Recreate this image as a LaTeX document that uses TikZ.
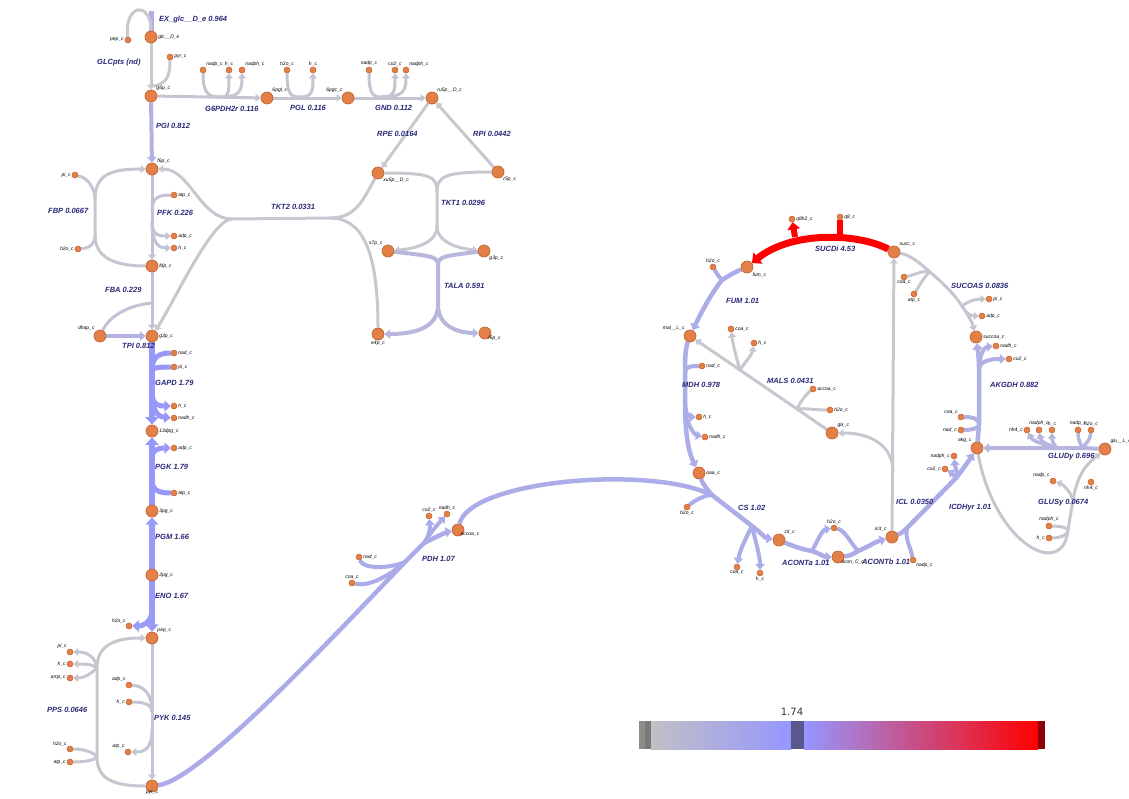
\documentclass[tikz,border=0pt]{standalone}
\usepackage{fontspec}
\setmainfont{Liberation Sans}
\newfontfamily\barfont{DejaVu Sans}
\usepackage{tikz}
\usetikzlibrary{arrows.meta,backgrounds}
\definecolor{fgrey}{RGB}{200,200,206}
\definecolor{fblue}{RGB}{152,152,250}
\definecolor{fred}{RGB}{255,0,0}
\definecolor{metfill}{RGB}{226,128,72}
\definecolor{metedge}{RGB}{196,98,48}
\definecolor{rxtext}{RGB}{40,40,120}
\definecolor{barlow}{RGB}{192,192,198}
\definecolor{barhigh}{RGB}{150,150,255}
\definecolor{barmark}{RGB}{88,88,140}
\definecolor{barend}{RGB}{140,0,10}
\tikzset{
  mb/.style={circle,fill=metfill,draw=metedge,line width=0.7pt,minimum size=12pt,inner sep=0pt},
  ms/.style={circle,fill=metfill,draw=metedge,line width=0.5pt,minimum size=6pt,inner sep=0pt},
  ml/.style={font=\fontsize{5}{5}\selectfont\itshape,inner sep=0.8pt},
  rl/.style={font=\fontsize{7.5}{8}\selectfont\bfseries\itshape,text=rxtext,anchor=west,inner sep=0pt},
  fx/.style 2 args={draw=fblue!#1!fgrey,line width=#2pt},
  ar/.style={-{Triangle[length=3pt 0.7,width=3pt 1.6]}},
}
\begin{document}
\begin{tikzpicture}[x=1pt,y=-1pt]
  \useasboundingbox (0,0) rectangle (1129,798);
  % big metabolites
  \node[mb,label={[ml]right:glc\_\_D\_e}] (glc) at (151,37) {};
  \node[mb,label={[ml]above right:g6p\_c}] (g6p) at (151,96) {};
  \node[mb,label={[ml]above right:6pgl\_c}] (pgl6) at (267,98) {};
  \node[mb,label={[ml]above left:6pgc\_c}] (pgc6) at (348,98) {};
  \node[mb,label={[ml]above right:ru5p\_\_D\_c}] (ru5p) at (432,98) {};
  \node[mb,label={[ml]above right:f6p\_c}] (f6p) at (152,169) {};
  \node[mb,label={[ml]right:fdp\_c}] (fdp) at (152,266) {};
  \node[mb,label={[ml]right:g3p\_c}] (g3p) at (152,336) {};
  \node[mb,label={[ml]above left:dhap\_c}] (dhap) at (100,336) {};
  \node[mb,label={[ml]right:13dpg\_c}] (dpg13) at (152,431) {};
  \node[mb,label={[ml]right:3pg\_c}] (pg3) at (152,511) {};
  \node[mb,label={[ml]right:2pg\_c}] (pg2) at (152,575) {};
  \node[mb,label={[ml]above right:pep\_c}] (pep) at (152,638) {};
  \node[mb,label={[ml,label distance=-3pt]below:pyr\_c}] (pyr) at (152,786) {};
  \node[mb,label={[ml]below right:xu5p\_\_D\_c}] (xu5p) at (378,173) {};
  \node[mb,label={[ml]below right:r5p\_c}] (r5p) at (498,172) {};
  \node[mb,label={[ml]above left:s7p\_c}] (s7p) at (388,251) {};
  \node[mb,label={[ml]below right:g3p\_c}] (g3pb) at (484,251) {};
  \node[mb,label={[ml]below:e4p\_c}] (e4p) at (378,334) {};
  \node[mb,label={[ml,label distance=-3pt]below right:f6p\_c}] (f6pb) at (485,333) {};
  \node[mb,label={[ml,label distance=-4pt]below right:accoa\_c}] (accoa) at (458,530) {};
  \node[mb,label={[ml]below right:fum\_c}] (fum) at (747,267) {};
  \node[mb,label={[ml]above left:mal\_\_L\_c}] (mal) at (690,336) {};
  \node[mb,label={[ml]right:oaa\_c}] (oaa) at (699,473) {};
  \node[mb,label={[ml]above right:cit\_c}] (cit) at (779,540) {};
  \node[mb,label={[ml,label distance=-3pt]below right:acon\_C\_c}] (acon) at (838,557) {};
  \node[mb,label={[ml]above left:icit\_c}] (icit) at (892,537) {};
  \node[mb,label={[ml]above left:akg\_c}] (akg) at (977,448) {};
  \node[mb,label={[ml]right:succoa\_c}] (succoa) at (976,337) {};
  \node[mb,label={[ml]above right:succ\_c}] (succ) at (894,252) {};
  \node[mb,label={[ml]above right:glx\_c}] (glx) at (832,433) {};
  \node[mb,label={[ml]above right:glu\_\_L\_c}] (glu) at (1105,449) {};
  % small metabolites
  \node[ms,label={[ml]left:pep\_c}] (pepA) at (128,40) {};
  \node[ms,label={[ml]right:pyr\_c}] (pyrA) at (170,57) {};
  \node[ms,label={[ml]above right:nadp\_c}] (gpNadp) at (203,70) {};
  \node[ms,label={[ml]above:h\_c}] (gpH) at (229,70) {};
  \node[ms,label={[ml]above right:nadph\_c}] (gpNadph) at (242,70) {};
  \node[ms,label={[ml]above:h2o\_c}] (plH2o) at (287,70) {};
  \node[ms,label={[ml]above:h\_c}] (plH) at (313,70) {};
  \node[ms,label={[ml]above:nadp\_c}] (gnNadp) at (369,70) {};
  \node[ms,label={[ml]above:co2\_c}] (gnCo2) at (395,70) {};
  \node[ms,label={[ml]above right:nadph\_c}] (gnNadph) at (406,70) {};
  \node[ms,label={[ml]left:pi\_c}] (fbPi) at (75,175) {};
  \node[ms,label={[ml]left:h2o\_c}] (fbH2o) at (78,249) {};
  \node[ms,label={[ml]right:atp\_c}] (pfAtp) at (174,195) {};
  \node[ms,label={[ml]right:adp\_c}] (pfAdp) at (174,236) {};
  \node[ms,label={[ml]right:h\_c}] (pfH) at (174,248) {};
  \node[ms,label={[ml]right:nad\_c}] (gaNad) at (174,353) {};
  \node[ms,label={[ml]right:pi\_c}] (gaPi) at (174,367) {};
  \node[ms,label={[ml]right:h\_c}] (gaH) at (174,406) {};
  \node[ms,label={[ml]right:nadh\_c}] (gaNadh) at (174,418) {};
  \node[ms,label={[ml]right:adp\_c}] (pkAdp) at (174,448) {};
  \node[ms,label={[ml]right:atp\_c}] (pkAtp) at (174,493) {};
  \node[ms,label={[ml]above left:h2o\_c}] (enH2o) at (129,626) {};
  \node[ms,label={[ml]above left:pi\_c}] (ppPi) at (70,652) {};
  \node[ms,label={[ml]left:h\_c}] (ppH) at (70,664) {};
  \node[ms,label={[ml]left:amp\_c}] (ppAmp) at (70,678) {};
  \node[ms,label={[ml]above left:h2o\_c}] (ppH2o) at (70,749) {};
  \node[ms,label={[ml]left:atp\_c}] (ppAtp) at (70,762) {};
  \node[ms,label={[ml]above left:adp\_c}] (pyAdp) at (129,685) {};
  \node[ms,label={[ml]left:h\_c}] (pyH) at (129,702) {};
  \node[ms,label={[ml]above left:atp\_c}] (pyAtp) at (128,752) {};
  \node[ms,label={[ml]right:nad\_c}] (pdNad) at (359,557) {};
  \node[ms,label={[ml]above:coa\_c}] (pdCoa) at (352,583) {};
  \node[ms,label={[ml]above:co2\_c}] (pdCo2) at (429,516) {};
  \node[ms,label={[ml]above:nadh\_c}] (pdNadh) at (447,514) {};
  \node[ms,label={[ml]right:q8h2\_c}] (sdQh2) at (792,219) {};
  \node[ms,label={[ml]right:q8\_c}] (sdQ8) at (840,217) {};
  \node[ms,label={[ml]above:h2o\_c}] (fmH2o) at (713,267) {};
  \node[ms,label={[ml]right:coa\_c}] (msCoa) at (731,329) {};
  \node[ms,label={[ml]right:h\_c}] (msH) at (754,343) {};
  \node[ms,label={[ml]right:nad\_c}] (mdNad) at (702,366) {};
  \node[ms,label={[ml]right:accoa\_c}] (msAccoa) at (813,389) {};
  \node[ms,label={[ml]right:h2o\_c}] (msH2o) at (830,410) {};
  \node[ms,label={[ml]right:h\_c}] (mdH) at (699,417) {};
  \node[ms,label={[ml]right:nadh\_c}] (mdNadh) at (705,437) {};
  \node[ms,label={[ml]below:h2o\_c}] (csH2o) at (687,507) {};
  \node[ms,label={[ml]below:coa\_c}] (csCoa) at (737,567) {};
  \node[ms,label={[ml]below:h\_c}] (csH) at (760,573) {};
  \node[ms,label={[ml]above:h2o\_c}] (acH2o) at (834,528) {};
  \node[ms,label={[ml]below right:nadp\_c}] (icNadp) at (913,560) {};
  \node[ms,label={[ml]below:coa\_c}] (soCoa) at (904,277) {};
  \node[ms,label={[ml]below:atp\_c}] (soAtp) at (914,294) {};
  \node[ms,label={[ml]right:pi\_c}] (soPi) at (989,299) {};
  \node[ms,label={[ml]right:adp\_c}] (soAdp) at (982,316) {};
  \node[ms,label={[ml]right:nadh\_c}] (akNadh) at (996,346) {};
  \node[ms,label={[ml]right:co2\_c}] (akCo2) at (1009,359) {};
  \node[ms,label={[ml]above left:coa\_c}] (akCoa) at (961,417) {};
  \node[ms,label={[ml]left:nad\_c}] (akNad) at (961,430) {};
  \node[ms,label={[ml]left:nadph\_c}] (icNadph) at (954,456) {};
  \node[ms,label={[ml]left:co2\_c}] (icCo2) at (945,469) {};
  \node[ms,label={[ml]left:nh4\_c}] (gyNh4) at (1027,430) {};
  \node[ms,label={[ml]above:nadph\_c}] (gyNadph) at (1039,430) {};
  \node[ms,label={[ml]above:h\_c}] (gyH) at (1052,430) {};
  \node[ms,label={[ml]above:nadp\_c}] (gyNadp) at (1078,430) {};
  \node[ms,label={[ml]above:h2o\_c}] (gyH2o) at (1091,430) {};
  \node[ms,label={[ml]above left:nadp\_c}] (gsNadp) at (1053,481) {};
  \node[ms,label={[ml]below:nh4\_c}] (gsNh4) at (1091,482) {};
  \node[ms,label={[ml]above:nadph\_c}] (gsNadph) at (1049,526) {};
  \node[ms,label={[ml]left:h\_c}] (gsH) at (1049,538) {};
  % reaction midpoints
  \coordinate (exTop) at (151,11);
  \coordinate (glcA) at (153,86);
  \coordinate (gpA) at (222,97);
  \coordinate (plA) at (300,97);
  \coordinate (gnA) at (382,97);
  \coordinate (tk1A) at (437,192); \coordinate (tk1B) at (437,226);
  \coordinate (talA) at (438,265); \coordinate (talB) at (438,305);
  \coordinate (tk2A) at (232,219); \coordinate (tk2B) at (330,218);
  \coordinate (fbA) at (95,200); \coordinate (fbB) at (95,235);
  \coordinate (pfA) at (152,212); \coordinate (pfB) at (152,222);
  \coordinate (fbaA) at (152,303);
  \coordinate (gaA) at (152,372); \coordinate (gaB) at (152,392);
  \coordinate (pkA) at (152,480); \coordinate (pkB) at (152,458);
  \coordinate (enA) at (152,612);
  \coordinate (ppA) at (97,668); \coordinate (ppB) at (97,757);
  \coordinate (pyA) at (152,712); \coordinate (pyB) at (152,730);
  \coordinate (pdA) at (405,562); \coordinate (pdB) at (424,543);
  \coordinate (csA) at (712,495); \coordinate (csB) at (752,526);
  \coordinate (aaA) at (812,551); \coordinate (abA) at (858,551);
  \coordinate (icA) at (893,472);
  \coordinate (idA) at (907,528); \coordinate (idB) at (957,477);
  \coordinate (akA) at (979,425); \coordinate (akB) at (979,368);
  \coordinate (soA) at (930,272); \coordinate (soB) at (962,306);
  \coordinate (sdA) at (840,237); \coordinate (sdB) at (795,237);
  \coordinate (fmA) at (722,280);
  \coordinate (mdA) at (685,372); \coordinate (mdB) at (685,402);
  \coordinate (msA) at (797,409); \coordinate (msB) at (740,370);
  \coordinate (gyA) at (1082,448); \coordinate (gyB) at (1057,448);
  \coordinate (gsA) at (1068,530); \coordinate (gsB) at (1073,500);
  \begin{scope}[on background layer]
    % glycolysis and pentose phosphate
    \draw[fx={55}{5}] (exTop) -- (glc);
    \draw[fx={0}{3}] (pepA) .. controls (124,4) and (151,0) .. (glc);
    \draw[fx={0}{3},ar] (glc) -- (g6p);
    \draw[fx={0}{3}] (glcA) .. controls (168,84) and (170,74) .. (pyrA);
    \draw[fx={7}{3},ar] (g6p) -- (pgl6);
    \draw[fx={7}{3}] (gpNadp) .. controls (203,96) and (210,97) .. (gpA);
    \draw[fx={7}{3},ar] (gpA) .. controls (229,97) and (229,90) .. (gpH);
    \draw[fx={7}{3},ar] (gpA) .. controls (240,97) and (242,90) .. (gpNadph);
    \draw[fx={7}{3},ar] (pgl6) -- (pgc6);
    \draw[fx={7}{3}] (plH2o) .. controls (287,96) and (292,97) .. (plA);
    \draw[fx={7}{3},ar] (plA) .. controls (313,97) and (313,90) .. (plH);
    \draw[fx={6}{3},ar] (pgc6) -- (ru5p);
    \draw[fx={6}{3}] (gnNadp) .. controls (369,96) and (374,97) .. (gnA);
    \draw[fx={6}{3},ar] (gnA) .. controls (395,97) and (395,90) .. (gnCo2);
    \draw[fx={6}{3},ar] (gnA) .. controls (404,97) and (406,90) .. (gnNadph);
    \draw[fx={47}{4},ar] (g6p) -- (f6p);
    \draw[fx={1}{3},ar] (ru5p) -- (xu5p);
    \draw[fx={3}{3},ar] (r5p) -- (ru5p);
    \draw[fx={2}{3}] (xu5p) .. controls (430,173) and (437,176) .. (tk1A);
    \draw[fx={2}{3}] (r5p) .. controls (445,172) and (437,176) .. (tk1A) -- (tk1B);
    \draw[fx={2}{3},ar] (tk1B) .. controls (437,245) and (410,249) .. (s7p);
    \draw[fx={2}{3},ar] (tk1B) .. controls (437,245) and (465,249) .. (g3pb);
    \draw[fx={34}{4}] (s7p) .. controls (430,256) and (438,256) .. (talA);
    \draw[fx={34}{4}] (g3pb) .. controls (445,256) and (438,256) .. (talA) -- (talB);
    \draw[fx={34}{4},ar] (talB) .. controls (438,330) and (410,334) .. (e4p);
    \draw[fx={34}{4},ar] (talB) .. controls (438,330) and (465,333) .. (f6pb);
    \draw[fx={2}{3}] (xu5p) .. controls (362,202) and (355,218) .. (tk2B);
    \draw[fx={2}{3}] (e4p) .. controls (378,250) and (362,218) .. (tk2B) -- (tk2A);
    \draw[fx={2}{3},ar] (tk2A) .. controls (200,219) and (190,169) .. (f6p);
    \draw[fx={2}{3},ar] (tk2A) .. controls (212,219) and (175,300) .. (g3p);
    \draw[fx={4}{3},ar] (fbA) .. controls (95,175) and (110,169) .. (f6p);
    \draw[fx={4}{3}] (fbA) .. controls (95,188) and (88,178) .. (fbPi);
    \draw[fx={4}{3}] (fdp) .. controls (110,266) and (95,255) .. (fbB) -- (fbA);
    \draw[fx={4}{3}] (fbH2o) .. controls (90,248) and (95,244) .. (fbB);
    \draw[fx={13}{3},ar] (f6p) -- (fdp);
    \draw[fx={13}{3}] (pfAtp) .. controls (155,195) and (152,200) .. (pfA);
    \draw[fx={13}{3},ar] (pfB) .. controls (152,236) and (160,236) .. (pfAdp);
    \draw[fx={13}{3},ar] (pfB) .. controls (152,245) and (160,248) .. (pfH);
    \draw[fx={13}{3},ar] (fdp) -- (g3p);
    \draw[fx={13}{3}] (fbaA) .. controls (130,305) and (110,315) .. (dhap);
    \draw[fx={47}{4},ar] (dhap) -- (g3p);
    \draw[fx={100}{6.5},ar] (g3p) -- (dpg13);
    \draw[fx={100}{5}] (gaNad) .. controls (155,353) and (152,360) .. (gaA);
    \draw[fx={100}{5}] (gaPi) .. controls (155,367) and (152,368) .. (gaA);
    \draw[fx={100}{5},ar] (gaB) .. controls (152,406) and (160,406) .. (gaH);
    \draw[fx={100}{5},ar] (gaB) .. controls (152,414) and (160,417) .. (gaNadh);
    \draw[fx={100}{6.5},ar] (pg3) -- (dpg13);
    \draw[fx={100}{5}] (pkAtp) .. controls (155,493) and (152,488) .. (pkA);
    \draw[fx={100}{5},ar] (pkB) .. controls (152,450) and (158,448) .. (pkAdp);
    \draw[fx={95}{6},ar] (pg2) -- (pg3);
    \draw[fx={96}{6},ar] (pg2) -- (pep);
    \draw[fx={96}{5},ar] (enA) .. controls (150,624) and (142,626) .. (enH2o);
    \draw[fx={4}{3},ar] (ppA) .. controls (97,645) and (115,638) .. (pep);
    \draw[fx={4}{3},ar] (ppA) .. controls (95,655) and (85,652) .. (ppPi);
    \draw[fx={4}{3},ar] (ppA) .. controls (93,664) and (85,664) .. (ppH);
    \draw[fx={4}{3},ar] (ppA) .. controls (93,672) and (85,678) .. (ppAmp);
    \draw[fx={4}{3}] (pyr) .. controls (115,786) and (97,780) .. (ppB) -- (ppA);
    \draw[fx={4}{3}] (ppH2o) .. controls (85,749) and (95,753) .. (ppB);
    \draw[fx={4}{3}] (ppAtp) .. controls (85,762) and (95,760) .. (ppB);
    \draw[fx={8}{3},ar] (pep) -- (pyr);
    \draw[fx={8}{3}] (pyAdp) .. controls (145,686) and (152,695) .. (pyA);
    \draw[fx={8}{3}] (pyH) .. controls (145,702) and (152,705) .. (pyA);
    \draw[fx={8}{3},ar] (pyB) .. controls (152,748) and (145,752) .. (pyAtp);
    % pyruvate dehydrogenase and TCA cycle
    \draw[fx={61}{4.5}] (pyr) .. controls (200,780) and (330,640) .. (pdA) -- (pdB);
    \draw[fx={61}{4}] (pdNad) .. controls (362,568) and (385,570) .. (pdA);
    \draw[fx={61}{4}] (pdCoa) .. controls (370,587) and (390,575) .. (pdA);
    \draw[fx={61}{4},ar] (pdB) .. controls (430,535) and (430,528) .. (pdCo2);
    \draw[fx={61}{4},ar] (pdB) .. controls (432,530) and (440,522) .. (pdNadh);
    \draw[fx={61}{4.5},ar] (pdB) .. controls (440,535) and (447,532) .. (accoa);
    \draw[fx={59}{4.5}] (accoa) .. controls (470,480) and (650,465) .. (csA) -- (csB);
    \draw[fx={59}{4.5}] (oaa) .. controls (703,485) and (708,490) .. (csA);
    \draw[fx={59}{4}] (csH2o) .. controls (695,500) and (705,495) .. (csA);
    \draw[fx={59}{4.5},ar] (csB) .. controls (760,532) and (765,538) .. (cit);
    \draw[fx={59}{4},ar] (csB) .. controls (745,540) and (740,550) .. (csCoa);
    \draw[fx={59}{4},ar] (csB) .. controls (755,540) and (760,555) .. (csH);
    \draw[fx={58}{4.5}] (cit) .. controls (795,547) and (805,550) .. (aaA);
    \draw[fx={58}{4.5},ar] (aaA) .. controls (818,553) and (825,557) .. (acon);
    \draw[fx={58}{4},ar] (aaA) .. controls (818,540) and (822,530) .. (acH2o);
    \draw[fx={58}{4.5}] (acon) .. controls (850,556) and (855,553) .. (abA);
    \draw[fx={58}{4}] (acH2o) .. controls (845,530) and (852,545) .. (abA);
    \draw[fx={58}{4.5},ar] (abA) .. controls (868,547) and (875,542) .. (icit);
    \draw[fx={2}{3},ar] (icit) -- (succ);
    \draw[fx={2}{3},ar] (icA) .. controls (893,445) and (870,433) .. (glx);
    \draw[fx={58}{4.5}] (icit) .. controls (902,533) and (905,530) .. (idA) -- (idB);
    \draw[fx={58}{4}] (icNadp) .. controls (910,545) and (905,540) .. (idA);
    \draw[fx={58}{4.5},ar] (idB) .. controls (962,470) and (968,462) .. (akg);
    \draw[fx={58}{4},ar] (idB) .. controls (957,470) and (955,466) .. (icNadph);
    \draw[fx={58}{4},ar] (idB) .. controls (952,475) and (950,472) .. (icCo2);
    \draw[fx={51}{4.5}] (akg) -- (akA) -- (akB);
    \draw[fx={51}{4}] (akCoa) .. controls (972,417) and (979,418) .. (akA);
    \draw[fx={51}{4}] (akNad) .. controls (972,430) and (979,428) .. (akA);
    \draw[fx={51}{4.5},ar] (akB) .. controls (979,360) and (978,352) .. (succoa);
    \draw[fx={51}{4},ar] (akB) .. controls (980,352) and (985,347) .. (akNadh);
    \draw[fx={51}{4},ar] (akB) .. controls (982,359) and (995,359) .. (akCo2);
    \draw[fx={5}{3}] (succ) .. controls (910,255) and (920,263) .. (soA);
    \draw[fx={5}{3}] (soCoa) .. controls (915,275) and (922,270) .. (soA);
    \draw[fx={5}{3}] (soAtp) .. controls (920,285) and (925,275) .. (soA);
    \draw[fx={5}{3}] (soA) .. controls (945,285) and (955,295) .. (soB);
    \draw[fx={5}{3},ar] (soB) .. controls (968,315) and (972,322) .. (succoa);
    \draw[fx={5}{3},ar] (soB) .. controls (970,300) and (978,299) .. (soPi);
    \draw[fx={5}{3},ar] (soB) .. controls (966,314) and (972,316) .. (soAdp);
    \draw[fx={0}{7},draw=fred,ar] (succ) .. controls (855,232) and (790,232) .. (fum);
    \draw[fx={0}{6},draw=fred] (sdQ8) -- (sdA);
    \draw[fx={0}{6},draw=fred,ar] (sdB) -- (sdQh2);
    \draw[fx={58}{4.5}] (fum) .. controls (735,272) and (728,276) .. (fmA);
    \draw[fx={58}{4}] (fmH2o) .. controls (716,272) and (718,276) .. (fmA);
    \draw[fx={58}{4.5},ar] (fmA) .. controls (710,295) and (700,315) .. (mal);
    \draw[fx={56}{4.5}] (mal) .. controls (685,350) and (685,360) .. (mdA) -- (mdB);
    \draw[fx={56}{4}] (mdNad) .. controls (692,366) and (686,366) .. (mdA);
    \draw[fx={56}{4},ar] (mdB) .. controls (685,415) and (690,417) .. (mdH);
    \draw[fx={56}{4},ar] (mdB) .. controls (685,425) and (695,435) .. (mdNadh);
    \draw[fx={56}{4.5},ar] (mdB) .. controls (685,440) and (690,455) .. (oaa);
    \draw[fx={2}{3},ar] (glx) -- (msA) -- (msB) -- (mal);
    \draw[fx={2}{3}] (msAccoa) .. controls (805,395) and (800,403) .. (msA);
    \draw[fx={2}{3}] (msH2o) .. controls (815,410) and (805,408) .. (msA);
    \draw[fx={2}{3},ar] (msB) .. controls (737,360) and (733,345) .. (msCoa);
    \draw[fx={2}{3},ar] (msB) .. controls (745,362) and (752,355) .. (msH);
    \draw[fx={40}{4},ar] (glu) -- (gyA) -- (gyB) -- (akg);
    \draw[fx={40}{3.5}] (gyNadp) .. controls (1078,442) and (1082,445) .. (gyA);
    \draw[fx={40}{3.5}] (gyH2o) .. controls (1090,442) and (1084,445) .. (gyA);
    \draw[fx={40}{3.5},ar] (gyB) .. controls (1050,446) and (1033,442) .. (gyNh4);
    \draw[fx={40}{3.5},ar] (gyB) .. controls (1050,446) and (1041,442) .. (gyNadph);
    \draw[fx={40}{3.5},ar] (gyB) .. controls (1055,446) and (1052,442) .. (gyH);
    \draw[fx={4}{3}] (akg) .. controls (995,545) and (1063,580) .. (gsA) -- (gsB);
    \draw[fx={4}{3},ar] (gsB) .. controls (1078,470) and (1090,462) .. (glu);
    \draw[fx={4}{3}] (gsNadph) .. controls (1060,526) and (1068,528) .. (gsA);
    \draw[fx={4}{3}] (gsH) .. controls (1060,538) and (1068,535) .. (gsA);
    \draw[fx={4}{3},ar] (gsB) .. controls (1070,490) and (1062,484) .. (gsNadp);
    % reaction labels
    \node[rl] (lEx) at (159,20) {EX\_glc\_\_D\_e 0.964};
    \node[rl] (lGlc) at (97,63) {GLCpts (nd)};
    \node[rl] (lG6p) at (205,109) {G6PDH2r 0.116};
    \node[rl] (lPgl) at (290,108) {PGL 0.116};
    \node[rl] (lGnd) at (375,108) {GND 0.112};
    \node[rl] (lPgi) at (156,126) {PGI 0.812};
    \node[rl] (lRpe) at (377,134) {RPE 0.0164};
    \node[rl] (lRpi) at (473,134) {RPI 0.0442};
    \node[rl] (lTk2) at (271,207) {TKT2 0.0331};
    \node[rl] (lTk1) at (441,203) {TKT1 0.0296};
    \node[rl] (lFbp) at (48,211) {FBP 0.0667};
    \node[rl] (lPfk) at (157,213) {PFK 0.226};
    \node[rl] (lFba) at (105,290) {FBA 0.229};
    \node[rl] (lTal) at (444,286) {TALA 0.591};
    \node[rl] (lTpi) at (122,346) {TPI 0.812};
    \node[rl] (lGap) at (155,383) {GAPD 1.79};
    \node[rl] (lPgk) at (155,467) {PGK 1.79};
    \node[rl] (lPgm) at (155,537) {PGM 1.66};
    \node[rl] (lEno) at (155,596) {ENO 1.67};
    \node[rl] (lPps) at (47,710) {PPS 0.0646};
    \node[rl] (lPyk) at (154,718) {PYK 0.145};
    \node[rl] (lPdh) at (422,559) {PDH 1.07};
    \node[rl] (lSuc) at (815,249) {SUCDi 4.53};
    \node[rl] (lFum) at (726,301) {FUM 1.01};
    \node[rl] (lSco) at (951,286) {SUCOAS 0.0836};
    \node[rl] (lMls) at (767,381) {MALS 0.0431};
    \node[rl] (lMdh) at (682,385) {MDH 0.978};
    \node[rl] (lAkg) at (990,385) {AKGDH 0.882};
    \node[rl] (lGly) at (1048,457) {GLUDy 0.696};
    \node[rl] (lGls) at (1038,503) {GLUSy 0.0674};
    \node[rl] (lIcl) at (896,502) {ICL 0.0350};
    \node[rl] (lIcd) at (949,508) {ICDHyr 1.01};
    \node[rl] (lCs) at (738,508) {CS 1.02};
    \node[rl] (lAca) at (782,563) {ACONTa 1.01};
    \node[rl] (lAcb) at (862,562) {ACONTb 1.01};
  \end{scope}
  % colour scale
  \fill[black!45] (639,721) rectangle (645,749);
  \fill[black!52] (645,721) rectangle (651,749);
  \shade[left color=barlow,right color=barhigh] (651,721) rectangle (791,749);
  \shade[left color=barhigh,right color=fred] (804,721) rectangle (1038,749);
  \fill[barmark] (791,721) rectangle (804,749);
  \fill[barend] (1038,721) rectangle (1045,749);
  \node[font=\barfont\fontsize{10}{12}\selectfont,text=black!80] (barval) at (792,712) {1.74};
\end{tikzpicture}
\end{document}
